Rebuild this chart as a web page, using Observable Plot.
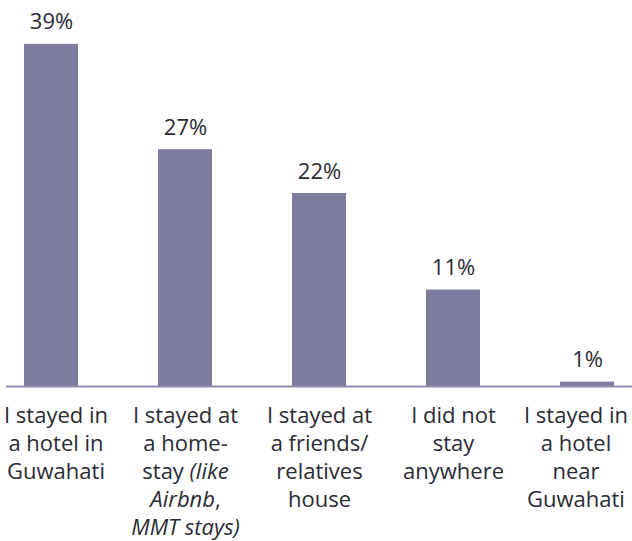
<!DOCTYPE html>
<html>
<head>
<meta charset="utf-8">
<script src="https://cdn.jsdelivr.net/npm/d3@7"></script>
<script src="https://cdn.jsdelivr.net/npm/@observablehq/plot@0.6"></script>
<style>
  html, body { margin: 0; padding: 0; background: #fff; }
  #chart svg { display: block; }
</style>
</head>
<body>
<div id="chart"></div>
<script>
const categories = [
  "I stayed in\na hotel in\nGuwahati",
  "I stayed at\na home-\nstay (like\nAirbnb,\nMMT stays)",
  "I stayed at\na friends/\nrelatives\nhouse",
  "I did not\nstay\nanywhere",
  "I stayed in\na hotel\nnear\nGuwahati"
];
const values = [39, 27, 22, 11, 0.5];
const valueLabels = ["39%", "27%", "22%", "11%", "1%"];
const italicParts = ["(like", "Airbnb", "MMT stays)"];

const data = categories.map((c, i) => ({cat: c, value: values[i], label: valueLabels[i]}));

const FONT = "'Open Sans', sans-serif";
const TEXT = "#2b2b35";
const BAR = "#7d7c9f";

const chart = Plot.plot({
  width: 632,
  height: 541,
  marginLeft: 6,
  marginRight: 0,
  marginTop: 0,
  marginBottom: 155,
  style: {fontFamily: FONT, background: "#fff"},
  x: {domain: categories, paddingInner: 0.6, paddingOuter: 0.13, axis: null},
  y: {domain: [0, 44], axis: null},
  marks: [
    Plot.barY(data, {x: "cat", y: "value", fill: BAR}),
    Plot.ruleY([0], {stroke: "#8d8cae", strokeWidth: 2}),
    Plot.text(data, {x: "cat", y: "value", text: "label", dy: -22, lineAnchor: "middle",
      fontSize: 22, fill: TEXT, fontFamily: FONT}),
    Plot.text(data, {x: "cat", y: 0, text: "cat", lineAnchor: "top", dy: 17,
      fontSize: 22, lineHeight: 28 / 22, fill: TEXT, fontFamily: FONT, className: "xlabels"})
  ]
});

document.getElementById("chart").appendChild(chart);

// italicize parts of labels
d3.select(chart).selectAll(".xlabels text tspan").each(function() {
  const t = this.textContent;
  const part = italicParts.find(p => t.includes(p));
  if (!part) return;
  const idx = t.indexOf(part);
  const before = t.slice(0, idx), after = t.slice(idx + part.length);
  this.textContent = "";
  const sel = d3.select(this);
  if (before) sel.append("tspan").text(before);
  sel.append("tspan").attr("font-style", "italic").text(part);
  if (after) sel.append("tspan").text(after);
});

// keep labels inside the frame
const W = 632, pad = 4;
d3.select(chart).selectAll(".xlabels text").each(function() {
  const b = this.getBBox();
  const tr = this.getAttribute("transform") || "";
  let shift = 0;
  const ctm = this.getCTM();
  const left = b.x + (ctm ? ctm.e : 0), right = left + b.width;
  if (left < pad) shift = pad - left;
  else if (right > W - pad) shift = (W - pad) - right;
  if (shift) this.setAttribute("transform", tr + ` translate(${shift},0)`);
});
</script>
</body>
</html>
